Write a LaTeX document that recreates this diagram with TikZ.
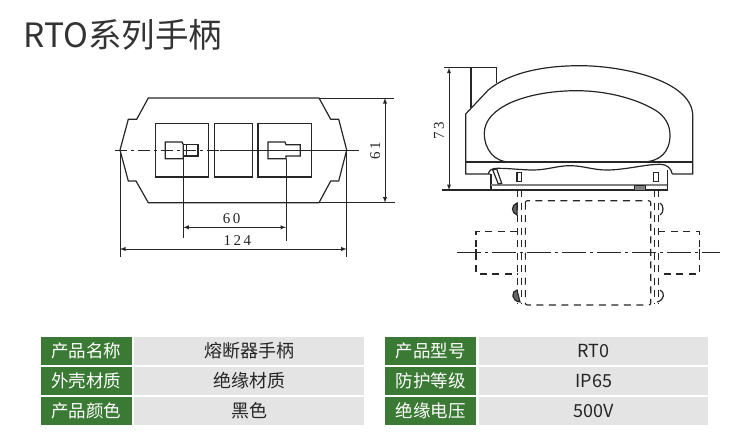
\documentclass[tikz,border=0pt]{standalone}
\usepackage{fontspec}
\setmainfont{Noto Sans CJK SC}
\newfontfamily\dimfont{Liberation Serif}
\definecolor{barGreen}{HTML}{3B7A35}
\definecolor{cellGray}{HTML}{E4E4E4}
\definecolor{inkLine}{HTML}{262626}
\tikzset{
  part/.style={line width=1.2pt,draw=inkLine},
  hidden/.style={line width=1.1pt,draw=inkLine,dash pattern=on 7pt off 5.5pt},
  center line/.style={line width=1pt,draw=inkLine,dash pattern=on 24pt off 4pt on 3pt off 4pt},
  dim/.style={line width=0.9pt,draw=inkLine,<->,>=latex},
  ext/.style={line width=0.9pt,draw=inkLine},
  dimtext/.style={inner sep=0pt,text=inkLine,font=\dimfont\fontsize{15}{15}\selectfont},
  keycell/.style={fill=barGreen,text=white,minimum width=91pt,minimum height=27.5pt,inner sep=0pt,font=\fontsize{17.5}{17.5}\selectfont},
  valcell/.style={fill=cellGray,text=black!85,minimum height=27.5pt,inner sep=0pt,font=\fontsize{18}{18}\selectfont},
}
\begin{document}
\begin{tikzpicture}[x=1pt,y=-1pt]
\useasboundingbox (0,0) rectangle (750,447);

\node[anchor=west,inner sep=0pt,text=black!80,font=\fontsize{33.5}{33.5}\selectfont] (title) at (23,35) {RTO系列手柄};

% front view
\draw[part] (148.3,98) -- (319,98) -- (330.7,119.3) -- (338.7,119.3) -- (346.7,150) -- (338.7,181) -- (330.7,181) -- (319,202.7) -- (148.3,202.7) -- (136,181) -- (128.3,181) -- (120,150) -- (128.3,119.3) -- (136.7,119.3) -- cycle;
\draw[part] (155.3,123.3) rectangle (208.7,177);
\draw[part] (214.7,123.3) rectangle (252.3,177);
\draw[part] (258,123.3) rectangle (311.3,177);
\draw[part] (165.3,142) -- (182,142) -- (183.3,144.7) -- (183.3,158.7) -- (165.3,158.7) -- cycle;
\draw[part] (183.3,144.7) rectangle (198,156);
\draw[part] (186.7,144.7) -- (186.7,156);
\draw[part] (268,142) -- (285,142) -- (286,144.7) -- (300.3,144.7) -- (300.3,156) -- (286,156) -- (286,158.7) -- (268,158.7) -- cycle;
\draw[line width=1pt,draw=inkLine,dash pattern=on 12pt off 4pt on 3pt off 4pt] (115,150) -- (220,150);
\draw[line width=1pt,draw=inkLine] (220,150) -- (359.3,150);

\coordinate (a60) at (183.3,227.3);
\coordinate (b60) at (286,227.3);
\draw[ext] (183.3,158.7) -- (183.3,238);
\draw[ext] (286,158.7) -- (286,240.7);
\draw[dim] (a60) -- (b60);
\node[dimtext] (n60) at (231.7,218.5) {6\,0};
\coordinate (a124) at (120,249);
\coordinate (b124) at (346.7,249);
\draw[ext] (120,150) -- (120,257);
\draw[ext] (346.7,150) -- (346.7,257);
\draw[dim] (a124) -- (b124);
\node[dimtext] (n124) at (237.3,241) {1\,2\,4};
\coordinate (a61) at (385,98);
\coordinate (b61) at (385,202.7);
\draw[ext] (319,98) -- (394.3,98);
\draw[ext] (319,202.7) -- (395,202.7);
\draw[dim] (a61) -- (b61);
\node[dimtext,rotate=90] (n61) at (375.3,150.5) {6\,1};

% side view
\draw[part] (444,67.7) -- (496.7,67.7) -- (496.7,83.3);
\draw[part] (471,67.7) -- (471,108.3);
\draw[part] (490,174) -- (465.7,174) -- (465.7,114) -- (488.3,90) .. controls (510,72) and (545,65.7) .. (580,65.7) .. controls (622,65.7) and (690,80) .. (692.7,114) -- (692.7,174) -- (672.3,174);
\draw[part] (465.7,162) -- (692.7,162);
\draw[part] (509.3,162) .. controls (495,162) and (484.3,150) .. (484.3,133.3) .. controls (484.3,120) and (495,110) .. (510,103) .. controls (530,94) and (555,90.7) .. (576.7,90.7) .. controls (605,90.7) and (635,98) .. (655,110) .. controls (665,116) and (670,125) .. (670,135) .. controls (670,152) and (660,162) .. (641.7,162);
\draw[part] (488.3,174) .. controls (489,170) and (492,168.3) .. (497.3,168.3) .. controls (510,168.3) and (522,170) .. (533.3,170) .. controls (547,170) and (557,165.7) .. (570,165.7) .. controls (583,165.7) and (593,170) .. (606.7,170) .. controls (625,170) and (645,164.3) .. (660,164.3) .. controls (667,164.3) and (671,168) .. (672.3,174);
\draw[line width=1.6pt,draw=inkLine] (490.7,174) -- (490.7,190);
\draw[part] (441.7,190) -- (667.3,190) -- (667.3,170);
\draw[line width=1.3pt,draw=gray] (491,185) -- (667.3,185);
\draw[line width=0.6pt,draw=inkLine,fill=gray] (634,185) rectangle (645.7,190);
\draw[part] (492.7,170) -- (496.7,169) -- (501.7,183.3) -- (498.3,184) -- cycle;
\draw[part] (517,172.3) rectangle (521.7,181.7);
\draw[part] (653.7,172.3) rectangle (658.3,181.7);
\coordinate (a73) at (449,67.7);
\coordinate (b73) at (449,190);
\draw[dim] (a73) -- (b73);
\node[dimtext,rotate=90] (n73) at (439,131) {7\,3};

% fuse, hidden lines
\draw[hidden,rounded corners=2pt] (525.3,200.7) rectangle (650.7,305);
\draw[hidden] (517.3,231.3) -- (476,231.3) -- (476,274) -- (517.3,274);
\draw[hidden] (658.3,231.3) -- (699.3,231.3) -- (699.3,274) -- (658.3,274);
\draw[hidden] (517.3,190) -- (517.3,303);
\draw[hidden] (521.7,190) -- (521.7,303);
\draw[hidden] (654.3,190) -- (654.3,303);
\draw[hidden] (658.3,190) -- (658.3,303);
\draw[center line] (457.3,252.7) -- (720,252.7);
\draw[part] (476,249) -- (476,256.5);
\draw[part] (699.3,249) -- (699.3,256.5);
\draw[part,fill=inkLine!70] (517,203) .. controls (511,205) and (511,213) .. (517,215) -- cycle;
\draw[part,fill=inkLine!70] (517,290) .. controls (511,291) and (511,301) .. (520,302) -- cycle;
\draw[part] (660,203) .. controls (664,205) and (664,213) .. (660,215);
\draw[part] (660,290) .. controls (665,292) and (665,300) .. (657,302);

% tables
\node[keycell] (k1) at (86.3,351) {产品名称};
\node[keycell] (k2) at (86.3,380.8) {外壳材质};
\node[keycell] (k3) at (86.3,411) {产品颜色};
\node[valcell,minimum width=230pt] (v1) at (249,351) {熔断器手柄};
\node[valcell,minimum width=230pt] (v2) at (249,380.8) {绝缘材质};
\node[valcell,minimum width=230pt] (v3) at (249,411) {黑色};
\node[keycell] (k4) at (430.8,351) {产品型号};
\node[keycell] (k5) at (430.8,380.8) {防护等级};
\node[keycell] (k6) at (430.8,411) {绝缘电压};
\node[valcell,minimum width=229.3pt] (v4) at (593.7,351) {RT0};
\node[valcell,minimum width=229.3pt] (v5) at (593.7,380.8) {IP65};
\node[valcell,minimum width=229.3pt] (v6) at (593.7,411) {500V};
\end{tikzpicture}
\end{document}
